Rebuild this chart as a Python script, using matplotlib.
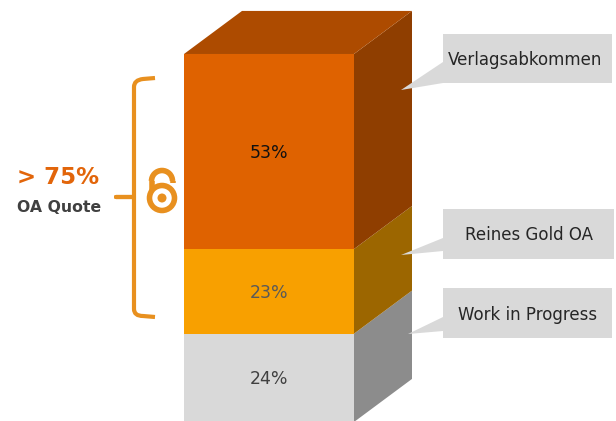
import matplotlib
matplotlib.use('Agg')
import matplotlib.pyplot as plt
from matplotlib.patches import Polygon, Rectangle, Circle, Arc, PathPatch
from matplotlib.path import Path

plt.rcParams['font.family'] = ['DejaVu Sans']

# stack order, bottom to top
labels = ['Work in Progress', 'Reines Gold OA', 'Verlagsabkommen']
shares = [24, 23, 53]
front_colors = ['#D9D9D9', '#F8A000', '#DF6200']
side_colors = ['#8C8C8C', '#9C6600', '#8F3E00']
text_colors = ['#404040', '#595959', '#111111']
top_color = '#AD4B00'

fig = plt.figure(figsize=(6.16, 4.21), dpi=100)

# bar axes: x in figure pixels, y in percent
ax = fig.add_axes([0, 0, 1, 1])
ax.set_xlim(0, 616)
ax.set_ylim(0.27, 114.67)
ax.axis('off')

bar_left, bar_width = 184, 170
depth_x, depth_y = 58, 11.7

bottom = 0
for share, front, side, tcol in zip(shares, front_colors, side_colors, text_colors):
    ax.bar(bar_left, share, width=bar_width, bottom=bottom, align='edge', color=front, linewidth=0)
    right = bar_left + bar_width
    ax.add_patch(Polygon([(right, bottom), (right + depth_x, bottom + depth_y),
                          (right + depth_x, bottom + share + depth_y), (right, bottom + share)],
                         closed=True, facecolor=side, edgecolor='none'))
    ax.text(bar_left + bar_width / 2, bottom + share / 2 - 0.4, f'{share}%', ha='center', va='center',
            fontsize=12.5, color=tcol)
    bottom += share

# top face of the column
ax.add_patch(Polygon([(bar_left, bottom), (bar_left + bar_width, bottom),
                      (bar_left + bar_width + depth_x, bottom + depth_y), (bar_left + depth_x, bottom + depth_y)],
                     closed=True, facecolor=top_color, edgecolor='none'))

# overlay in pixel coordinates for callouts, bracket and lock
ov = fig.add_axes([0, 0, 1, 1])
ov.set_xlim(0, 616)
ov.set_ylim(421, 0)
ov.axis('off')
ov.patch.set_alpha(0)

boxes = [(443, 288, 169, 50), (443, 209, 171, 50), (443, 34, 169, 49)]
tails = [[(443, 317), (408, 334), (443, 331)], [(443, 238), (401, 255), (443, 251)], [(443, 62), (401, 90), (443, 83)]]
centers = [(528, 315), (529, 235), (525, 60)]
for (x, y, w, h), tail, (tx, ty), name in zip(boxes, tails, centers, labels):
    ov.add_patch(Rectangle((x, y), w, h, facecolor='#D9D9D9', edgecolor='none'))
    ov.add_patch(Polygon(tail, closed=True, facecolor='#D9D9D9', edgecolor='none'))
    ov.text(tx, ty, name, ha='center', va='center', fontsize=12, color='#262626')

# curly bracket spanning the open access share
orange = '#E8901F'
verts = [(155, 78), (143, 79), (134, 80), (134, 87), (134, 197), (116, 197),
         (134, 197), (134, 309), (134, 316), (143, 316), (155, 317)]
codes = [Path.MOVETO, Path.LINETO, Path.CURVE3, Path.CURVE3, Path.LINETO, Path.LINETO,
         Path.LINETO, Path.LINETO, Path.CURVE3, Path.CURVE3, Path.LINETO]
ov.add_patch(PathPatch(Path(verts, codes), facecolor='none', edgecolor=orange, lw=3,
                       capstyle='butt', joinstyle='round'))

# open access lock
ov.add_patch(Circle((162, 198), 12.5, facecolor='none', edgecolor=orange, lw=4))
ov.add_patch(Circle((162, 198), 4.5, facecolor=orange, edgecolor='none'))
ov.add_patch(Arc((162, 181), 21, 21, theta1=180, theta2=360, edgecolor=orange, lw=4))
ov.plot([151.5, 151.5], [181, 191], color=orange, lw=4, solid_capstyle='butt')
ov.plot([172.5, 172.5], [181, 182.5], color=orange, lw=4, solid_capstyle='butt')

ov.text(17, 177, '> 75%', ha='left', va='center', fontsize=16.5, fontweight='bold', color='#E2650A')
ov.text(17, 207, 'OA Quote', ha='left', va='center', fontsize=11.3, fontweight='bold', color='#404040')

fig.savefig('out.png', dpi=100)
